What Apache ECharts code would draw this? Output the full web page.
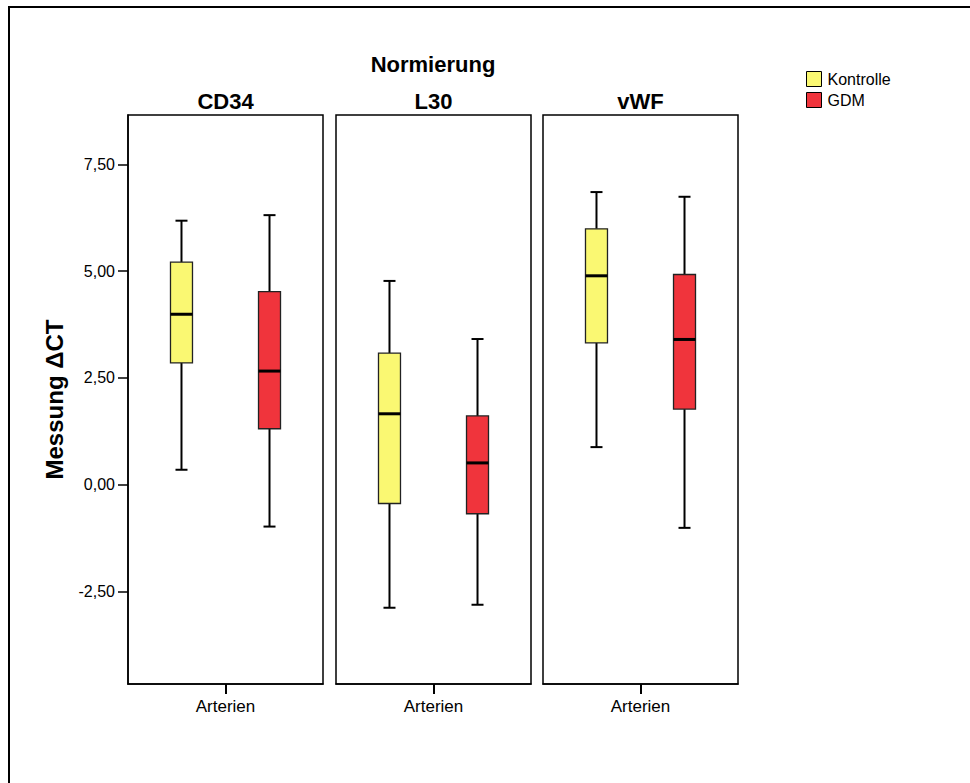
<!DOCTYPE html>
<html>
<head>
<meta charset="utf-8">
<script src="https://cdn.jsdelivr.net/npm/echarts@6/dist/echarts.min.js"></script>
<style>
html,body{margin:0;padding:0;background:#fff;}
#chart{width:970px;height:783px;}
</style>
</head>
<body>
<div id="chart"></div>
<script>
// ---- data ----
const panels = ['CD34', 'L30', 'vWF'];
const xCategory = ['Arterien'];
const groups = ['Kontrolle', 'GDM'];
// [min whisker, Q1, median, Q3, max whisker]
const kontrolle = [
  [0.35, 2.85, 3.99, 5.21, 6.18],
  [-2.88, -0.44, 1.66, 3.08, 4.77],
  [0.88, 3.32, 4.89, 5.99, 6.85]
];
const gdm = [
  [-0.98, 1.31, 2.66, 4.52, 6.31],
  [-2.81, -0.68, 0.51, 1.61, 3.41],
  [-1.01, 1.77, 3.40, 4.92, 6.74]
];
const yTicks = [-2.5, 0, 2.5, 5, 7.5];
const yTickLabels = ['-2,50', '0,00', '2,50', '5,00', '7,50'];
const yMin = -4.665, yMax = 8.654;
const title = 'Normierung';
const yName = 'Messung \u0394CT';

// ---- style / layout ----
const colors = {Kontrolle: '#FAF872', GDM: '#F0343C'};
const FONT = '"Liberation Sans", Arial, sans-serif';
const panelLeft = [128, 336, 543];
const panelW = 195, panelTop = 115, panelH = 569;
const offsetFrac = {Kontrolle: -0.2257, GDM: 0.2257};

function makeRender(group) {
  return function (params, api) {
    const xi = api.value(0);
    const lo = api.coord([xi, api.value(1)]);
    const q1 = api.coord([xi, api.value(2)]);
    const md = api.coord([xi, api.value(3)]);
    const q3 = api.coord([xi, api.value(4)]);
    const hi = api.coord([xi, api.value(5)]);
    const bw = api.size([1, 0])[0];
    const cx = lo[0] + bw * offsetFrac[group];
    const boxW = 22, capW = 12;
    const ls = {stroke: '#000', lineWidth: 2};
    return {
      type: 'group',
      children: [
        {type: 'line', shape: {x1: cx, y1: hi[1], x2: cx, y2: q3[1]}, style: ls},
        {type: 'line', shape: {x1: cx, y1: q1[1], x2: cx, y2: lo[1]}, style: ls},
        {type: 'line', shape: {x1: cx - capW / 2, y1: hi[1], x2: cx + capW / 2, y2: hi[1]}, style: ls},
        {type: 'line', shape: {x1: cx - capW / 2, y1: lo[1], x2: cx + capW / 2, y2: lo[1]}, style: ls},
        {type: 'rect', shape: {x: cx - boxW / 2, y: q3[1], width: boxW, height: q1[1] - q3[1]},
          style: {fill: colors[group], stroke: '#222', lineWidth: 1.3}},
        {type: 'line', shape: {x1: cx - boxW / 2, y1: md[1], x2: cx + boxW / 2, y2: md[1]},
          style: {stroke: '#000', lineWidth: 3}}
      ]
    };
  };
}

const grids = [], xAxes = [], yAxes = [], series = [];
panels.forEach((p, i) => {
  grids.push({
    left: panelLeft[i], top: panelTop, width: panelW, height: panelH,
    show: true, borderColor: '#000', borderWidth: 1.5, backgroundColor: 'transparent',
    outerBoundsMode: 'none', containLabel: false
  });
  xAxes.push({
    type: 'category', gridIndex: i, data: xCategory, boundaryGap: true, position: 'bottom',
    axisLine: {show: true, onZero: false, lineStyle: {color: '#000', width: 1.5}},
    axisTick: {show: true, alignWithLabel: true, length: 10, lineStyle: {color: '#000', width: 2}},
    axisLabel: {color: '#000', fontSize: 17, fontFamily: FONT, margin: 14},
    splitLine: {show: false}
  });
  yAxes.push({
    type: 'value', gridIndex: i, min: yMin, max: yMax,
    show: i === 0,
    name: i === 0 ? yName : '',
    nameLocation: 'middle', nameRotate: 90, nameGap: 62,
    nameTextStyle: {color: '#000', fontSize: 24, fontWeight: 'bold', fontFamily: FONT},
    axisLine: {show: true, lineStyle: {color: '#000', width: 1.5}},
    axisTick: {show: true, length: 10, customValues: yTicks, lineStyle: {color: '#000', width: 1.5}},
    axisLabel: {
      show: true, customValues: yTicks, margin: 13, color: '#000', fontSize: 16, fontFamily: FONT,
      formatter: v => {
        const k = yTicks.findIndex(t => Math.abs(t - v) < 1e-6);
        return k >= 0 ? yTickLabels[k] : '';
      }
    },
    splitLine: {show: false}
  });
  [['Kontrolle', kontrolle], ['GDM', gdm]].forEach(([g, arr]) => {
    series.push({
      type: 'custom', name: g, xAxisIndex: i, yAxisIndex: i,
      itemStyle: {color: colors[g], borderColor: '#000', borderWidth: 1},
      renderItem: makeRender(g),
      encode: {x: 0, y: [1, 2, 3, 4, 5]},
      data: [[0].concat(arr[i])],
      silent: true, animation: false
    });
  });
});

const graphics = [
  {type: 'rect', shape: {x: 9, y: 7, width: 2000, height: 2000},
    style: {fill: 'none', stroke: '#000', lineWidth: 2}, silent: true},
  {type: 'text', x: (panelLeft[0] + panelLeft[2] + panelW) / 2, y: 64,
    style: {text: title, fill: '#000', font: 'bold 22px ' + FONT, textAlign: 'center', textVerticalAlign: 'middle'}}
];
panels.forEach((p, i) => {
  graphics.push({type: 'text', x: panelLeft[i] + panelW / 2, y: 101,
    style: {text: p, fill: '#000', font: 'bold 22px ' + FONT, textAlign: 'center', textVerticalAlign: 'middle'}});
});

const chart = echarts.init(document.getElementById('chart'), null, {renderer: 'svg'});
chart.setOption({
  animation: false,
  backgroundColor: '#fff',
  grid: grids,
  xAxis: xAxes,
  yAxis: yAxes,
  legend: {
    data: groups.map(g => ({name: g, icon: 'rect', itemStyle: {color: colors[g], borderColor: '#000', borderWidth: 1}})),
    orient: 'vertical', left: 806, top: 71, padding: 0,
    itemWidth: 15, itemHeight: 15, itemGap: 5,
    textStyle: {color: '#000', fontSize: 16, fontFamily: FONT, padding: [0, 0, 0, 1]},
    selectedMode: false
  },
  graphic: graphics,
  series: series
});
</script>
</body>
</html>
